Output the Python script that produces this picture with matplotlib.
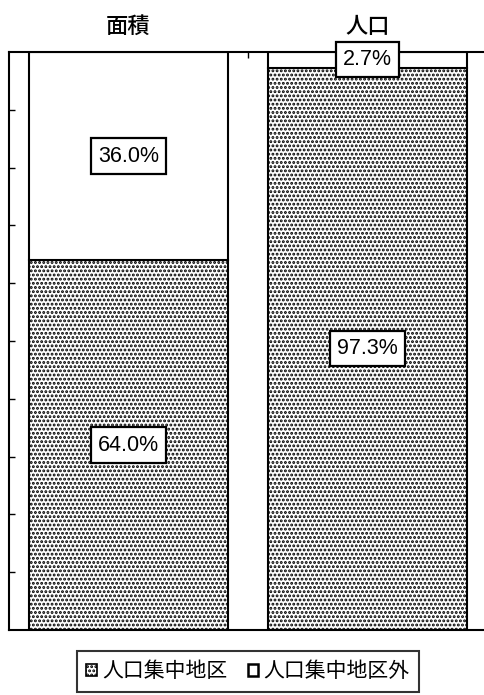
import matplotlib
matplotlib.use('Agg')
import matplotlib.pyplot as plt
from matplotlib.patches import Patch
import numpy as np

plt.rcParams['font.family'] = ['Noto Sans CJK JP', 'DejaVu Sans']
plt.rcParams['hatch.linewidth'] = 1.4

# データ
categories = ['面積', '人口']
series_names = ['人口集中地区', '人口集中地区外']
did_share = [64.0, 97.3]      # 人口集中地区
non_did_share = [36.0, 2.7]   # 人口集中地区外

fig = plt.figure(figsize=(4.85, 6.95), dpi=100)
ax = fig.add_axes([9 / 485, 1 - 630 / 695, 478 / 485, 578 / 695])

x = np.arange(len(categories))
w = 0.83
ax.bar(x, did_share, width=w, color='white', edgecolor='black',
       linewidth=1.5, hatch='....')
ax.bar(x, non_did_share, width=w, bottom=did_share, color='white',
       edgecolor='black', linewidth=1.5)

# ラベル
box = dict(boxstyle='square,pad=0.33', fc='white', ec='black', lw=1.6)
for i in range(len(categories)):
    ax.text(x[i], did_share[i] / 2, f'{did_share[i]:.1f}%', ha='center',
            va='center', fontsize=15.5, family='Liberation Sans', bbox=box)
    ax.text(x[i], did_share[i] + non_did_share[i] / 2,
            f'{non_did_share[i]:.1f}%', ha='center', va='center',
            fontsize=15.5, family='Liberation Sans', bbox=box, clip_on=False)

ax.set_xlim(-0.5, 1.5)
ax.set_ylim(0, 100)
ax.set_yticks(np.arange(10, 100, 10))
ax.tick_params(axis='y', direction='in', length=4.5, width=1, labelleft=False)

ax.xaxis.tick_top()
ax.set_xticks(x)
ax.set_xticklabels(categories, fontsize=16, fontweight='medium')
ax.set_xticks([0.5], minor=True)
ax.tick_params(axis='x', which='major', length=0, pad=10)
ax.tick_params(axis='x', which='minor', direction='in', length=4, width=1)

for s in ax.spines.values():
    s.set_linewidth(1.5)

handles = [Patch(facecolor='white', edgecolor='black', hatch='....', linewidth=1.2),
           Patch(facecolor='white', edgecolor='black', linewidth=1.8)]
leg = fig.legend(handles, series_names, loc='upper center', ncol=2,
                 bbox_to_anchor=(248 / 485, 1 - 651 / 695), fontsize=15,
                 frameon=True, fancybox=False, handlelength=0.5,
                 handleheight=0.5, handletextpad=0.25, columnspacing=1.0,
                 borderpad=0.45, borderaxespad=0)
leg.get_frame().set_edgecolor('black')
leg.get_frame().set_linewidth(1.5)

fig.savefig('out.png', dpi=100)
